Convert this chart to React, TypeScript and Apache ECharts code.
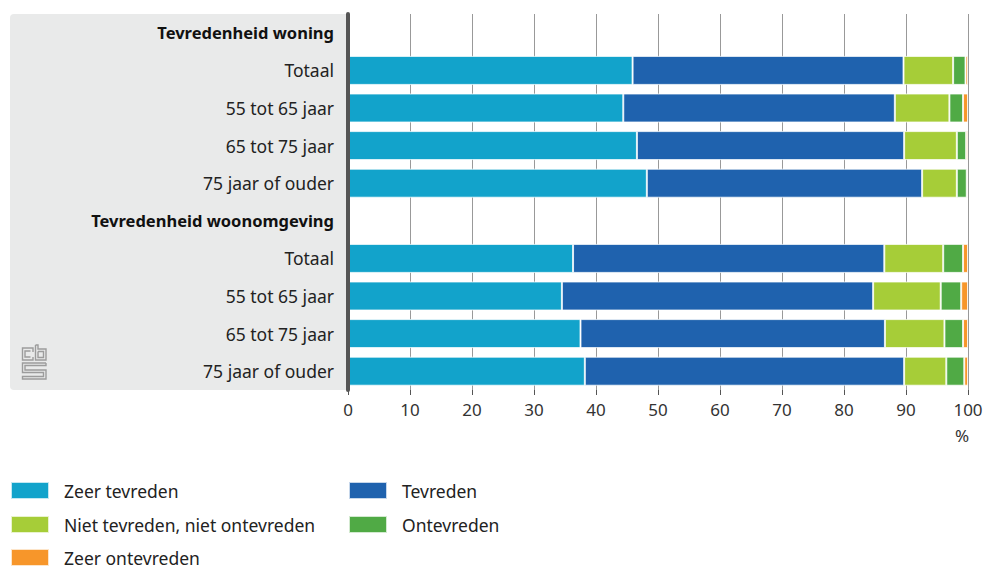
import React, { useEffect, useRef } from "react";
import * as echarts from "echarts";

const categories = [
  "Tevredenheid woning",
  "Totaal",
  "55 tot 65 jaar",
  "65 tot 75 jaar",
  "75 jaar of ouder",
  "Tevredenheid woonomgeving",
  "Totaal ",
  "55 tot 65 jaar ",
  "65 tot 75 jaar ",
  "75 jaar of ouder ",
];
const headers = ["Tevredenheid woning", "Tevredenheid woonomgeving"];

const zeerTevreden = [null, 45.9, 44.4, 46.6, 48.2, null, 36.3, 34.5, 37.5, 38.2];
const tevreden = [null, 43.7, 43.8, 43.1, 44.4, null, 50.2, 50.2, 49.1, 51.5];
const nietNiet = [null, 8.0, 8.8, 8.5, 5.6, null, 9.5, 10.9, 9.6, 6.8];
const ontevreden = [null, 2.0, 2.2, 1.5, 1.6, null, 3.2, 3.3, 3.0, 2.9];
const zeerOntevreden = [null, 0.4, 0.8, 0.3, 0.2, null, 0.8, 1.1, 0.8, 0.6];

const seriesNames = [
  "Zeer tevreden",
  "Tevreden",
  "Niet tevreden, niet ontevreden",
  "Ontevreden",
  "Zeer ontevreden",
];
const seriesData = [zeerTevreden, tevreden, nietNiet, ontevreden, zeerOntevreden];
const colors = ["#12a3cb", "#1f62ae", "#a6cd38", "#50aa45", "#f7962a"];

const xTicks = { min: 0, max: 100, interval: 10 };

const FONT = "Noto Sans";

export default function App() {
  const ref = useRef<HTMLDivElement>(null);

  useEffect(() => {
    document.body.style.margin = "0";
    if (!ref.current) return;
    const chart = echarts.init(ref.current, null, { renderer: "svg" });

    const legendPos = [
      { left: 10, top: 481 },
      { left: 348, top: 481 },
      { left: 10, top: 515 },
      { left: 348, top: 515 },
      { left: 10, top: 548 },
    ];

    const logoStroke = { stroke: "#9c9c9c", lineWidth: 1.4, fill: null };

    chart.setOption({
      animation: false,
      textStyle: { fontFamily: FONT },
      grid: { left: 348, right: 24, top: 14, height: 376, containLabel: false },
      xAxis: {
        type: "value",
        min: xTicks.min,
        max: xTicks.max,
        interval: xTicks.interval,
        axisLine: { show: false },
        axisTick: { show: true, length: 5, lineStyle: { color: "#555", width: 1 } },
        splitLine: { show: true, lineStyle: { color: "#999", width: 1 } },
        axisLabel: { fontSize: 17, color: "#333", margin: 11, fontFamily: FONT },
      },
      yAxis: {
        type: "category",
        data: categories,
        inverse: true,
        z: 5,
        axisLine: { show: true, lineStyle: { color: "#555", width: 4 } },
        axisTick: { show: false },
        splitLine: { show: false },
        axisLabel: {
          margin: 14,
          fontSize: 17.5,
          color: "#222",
          fontFamily: FONT,
          formatter: (v: string) =>
            headers.includes(v) ? `{h|${v}}` : `{n|${v.trim()}}`,
          rich: {
            h: { fontSize: 16.5, fontWeight: "bold", color: "#111", fontFamily: FONT },
            n: { fontSize: 17.5, color: "#222", fontFamily: FONT },
          },
        },
      },
      legend: seriesNames.map((name, i) => ({
        data: [name],
        left: legendPos[i].left,
        top: legendPos[i].top,
        padding: 0,
        icon: "rect",
        itemWidth: 38,
        itemHeight: 17,
        selectedMode: false,
        textStyle: {
          fontSize: 17.5,
          color: "#222",
          fontFamily: FONT,
          padding: [0, 0, 0, 10],
          lineHeight: 17,
        },
      })),
      graphic: [
        {
          type: "rect",
          z: -10,
          silent: true,
          shape: { x: 10, y: 14, width: 338, height: 376, r: [4, 0, 0, 4] },
          style: { fill: "#e9eaea" },
        },
        {
          type: "text",
          left: 955,
          top: 427,
          style: { text: "%", fontSize: 17, fill: "#333", fontFamily: FONT },
        },
        {
          type: "group",
          silent: true,
          children: [
            { type: "polyline", shape: { points: [[33, 352], [33, 348], [22.5, 348], [22.5, 360], [33, 360], [33, 357]] }, style: logoStroke },
            { type: "polyline", shape: { points: [[30.5, 351], [25, 351], [25, 357], [30.5, 357]] }, style: logoStroke },
            { type: "polyline", shape: { points: [[35.5, 345], [35.5, 360], [46, 360], [46, 349], [38, 349], [38, 345], [35.5, 345]] }, style: logoStroke },
            { type: "polyline", shape: { points: [[38, 351.5], [43.5, 351.5], [43.5, 357.5], [38, 357.5], [38, 351.5]] }, style: logoStroke },
            { type: "polyline", shape: { points: [[46, 363], [22.5, 363], [22.5, 372.5], [43.5, 372.5], [43.5, 376.5], [22.5, 376.5], [22.5, 379], [46, 379], [46, 370], [25, 370], [25, 365.5], [46, 365.5], [46, 363]] }, style: logoStroke },
          ],
        },
      ],
      series: seriesNames.map((name, i) => ({
        name,
        type: "bar",
        stack: "total",
        data: seriesData[i],
        barWidth: 29,
        itemStyle: {
          color: colors[i],
          borderColor: "rgba(255,255,255,0.75)",
          borderWidth: 1,
        },
        emphasis: { disabled: true },
      })),
    });

    return () => chart.dispose();
  }, []);

  return <div ref={ref} style={{ width: 992, height: 568 }} />;
}
